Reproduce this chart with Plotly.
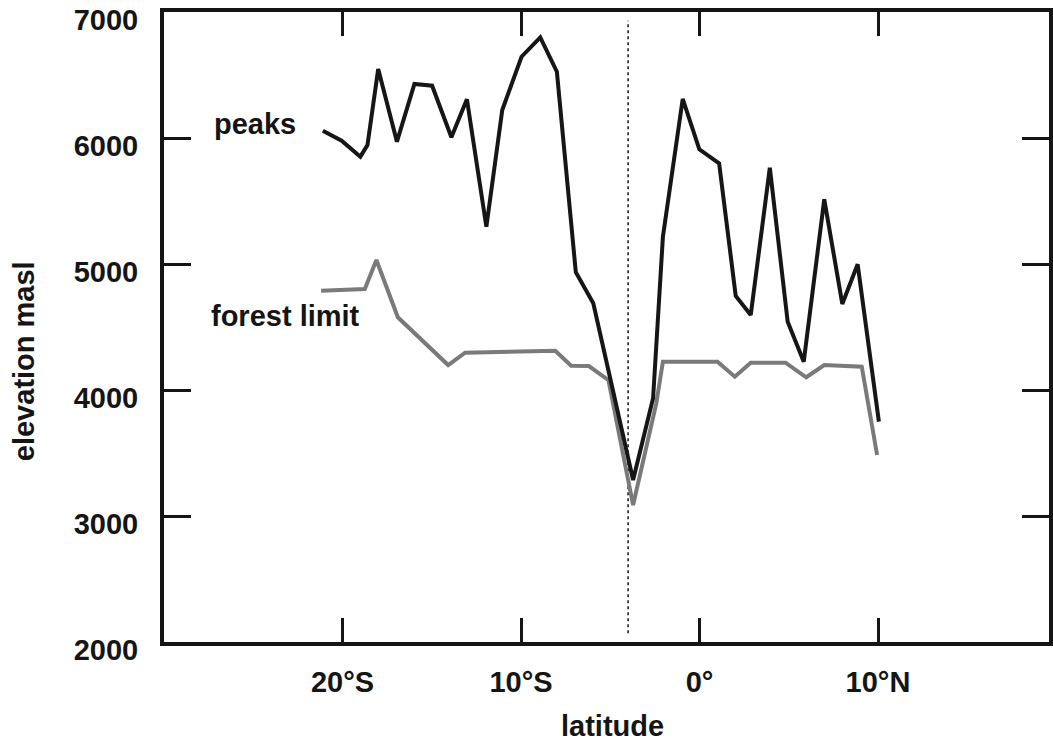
import plotly.graph_objects as go

# ---- data ----
peaks_lat = [-21.1, -20.05, -19.0, -18.6, -18.0, -16.95, -15.97, -14.98, -13.9, -13.03,
             -11.94, -11.05, -9.97, -8.92, -7.99, -6.93, -5.95, -4.93, -3.72, -2.6,
             -2.05, -0.94, -0.01, 1.1, 2.03, 2.87, 3.94, 4.94, 5.84, 6.99, 8.0, 8.86, 10.05]
peaks_elev = [6058, 5979, 5852, 5944, 6548, 5971, 6429, 6415, 6006, 6307,
              5296, 6222, 6645, 6799, 6526, 4935, 4688, 4053, 3286, 3934,
              5217, 6310, 5910, 5799, 4746, 4595, 5764, 4542, 4225, 5513, 4683, 4998, 3749]

forest_lat = [-21.2, -18.75, -18.1, -16.9, -14.08, -13.13, -8.08, -7.19, -6.2, -5.1,
              -3.72, -2.42, -2.05, 1.01, 1.98, 2.87, 4.82, 5.98, 6.99, 9.09, 9.95]
forest_elev = [4788, 4802, 5032, 4577, 4198, 4296, 4312, 4193, 4190, 4079,
               3087, 3894, 4225, 4225, 4106, 4217, 4217, 4101, 4198, 4185, 3484]

divider_lat = [-4.0, -4.0]
divider_elev = [2070, 6930]

x_tickvals = [-20, -10, 0, 10]
x_ticktext = ["20°S", "10°S", "0°", "10°N"]
y_tickvals = [2000, 3000, 4000, 5000, 6000, 7000]

label_text = ["peaks", "forest limit"]
label_lat = [-24.93, -23.2]
label_elev = [6110, 4585]

FONT = "Liberation Sans, Arial, Helvetica, sans-serif"
FS = 29

fig = go.Figure()
fig.add_trace(go.Scatter(x=divider_lat, y=divider_elev, mode="lines",
                         line=dict(color="#222222", width=1.6, dash="dot"),
                         hoverinfo="skip", showlegend=False))
fig.add_trace(go.Scatter(x=forest_lat, y=forest_elev, mode="lines",
                         line=dict(color="#7a7a7a", width=4),
                         name="forest limit", showlegend=False))
fig.add_trace(go.Scatter(x=peaks_lat, y=peaks_elev, mode="lines",
                         line=dict(color="#161616", width=4),
                         name="peaks", showlegend=False))

for t, lx, ly in zip(label_text, label_lat, label_elev):
    fig.add_annotation(x=lx, y=ly, text="<b>%s</b>" % t, showarrow=False,
                       font=dict(family=FONT, size=FS, color="#151515"),
                       xanchor="center", yanchor="middle")

fig.add_annotation(xref="paper", yref="paper", x=-0.158, y=0.446,
                   text="<b>elevation masl</b>", textangle=-90, showarrow=False,
                   font=dict(family=FONT, size=FS, color="#151515"),
                   xanchor="center", yanchor="middle")
fig.add_annotation(xref="paper", yref="paper", x=0.507, y=-0.133,
                   text="<b>latitude</b>", showarrow=False,
                   font=dict(family=FONT, size=FS, color="#151515"),
                   xanchor="center", yanchor="middle")

fig.update_layout(
    width=1053, height=742,
    margin=dict(l=164, r=0, t=12, b=100),
    paper_bgcolor="white", plot_bgcolor="white",
    font=dict(family=FONT, size=FS, color="#151515"),
    showlegend=False,
)
fig.update_xaxes(range=[-30, 19.58], tickvals=x_tickvals, ticktext=x_ticktext,
                 ticks="inside", ticklen=24, tickwidth=3, tickcolor="#151515",
                 showline=True, linewidth=4, linecolor="#151515", mirror="ticks",
                 showgrid=False, zeroline=False,
                 tickfont=dict(family=FONT, size=FS, weight="bold"),
                 ticklabelstandoff=11)
fig.update_yaxes(range=[2000, 7000], tickvals=y_tickvals,
                 ticks="inside", ticklen=27, tickwidth=3, tickcolor="#151515",
                 showline=True, linewidth=4, linecolor="#151515", mirror="ticks",
                 showgrid=False, zeroline=False,
                 tickfont=dict(family=FONT, size=FS, weight="bold"),
                 ticklabelstandoff=16, ticklabelshift=8)

fig.write_html("out.html", config={"displayModeBar": False},
               post_script="document.body.style.margin='0px';document.body.style.overflow='hidden';")
